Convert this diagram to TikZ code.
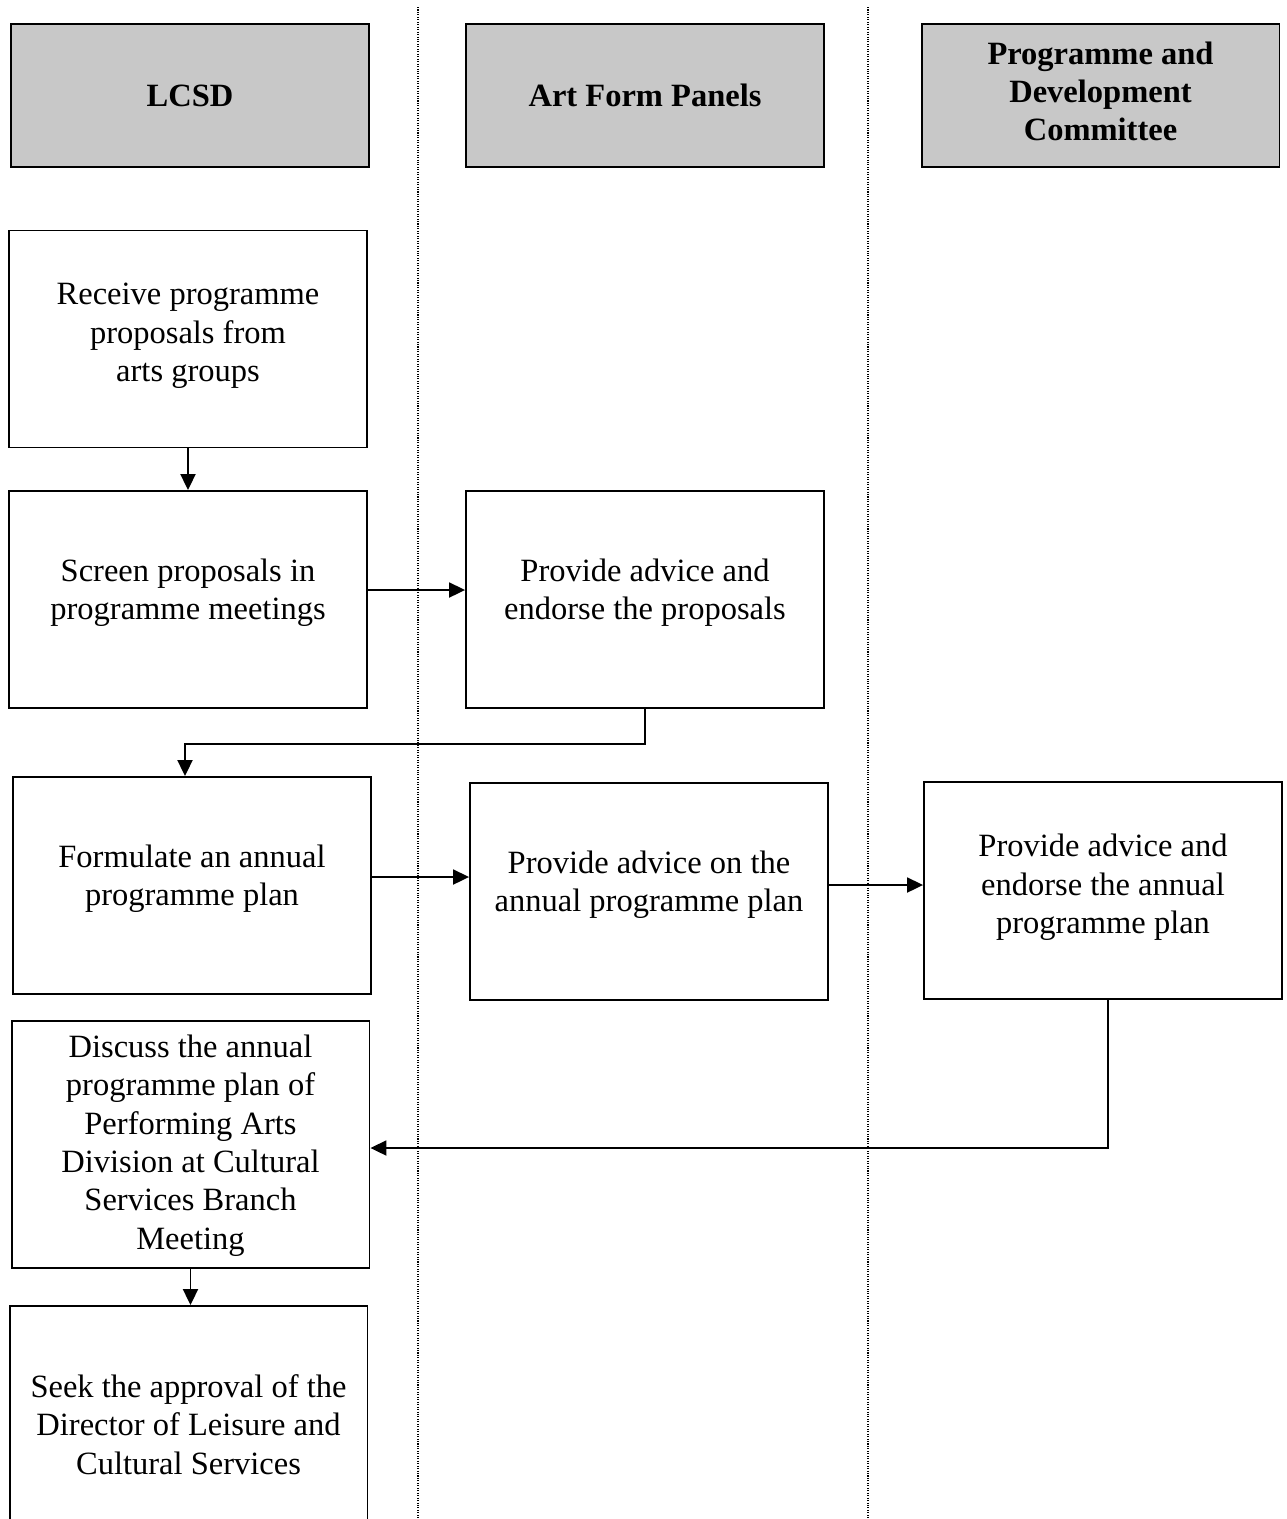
\documentclass[tikz,border=0pt]{standalone}
\usepackage{fontspec}
\setmainfont{Liberation Serif}
\usetikzlibrary{arrows.meta}
\definecolor{headgray}{HTML}{C8C8C8}

\begin{document}
\begin{tikzpicture}[x=0.02cm, y=-0.02cm,
	head/.style={draw, line width=1.1pt, fill=headgray, minimum width=7.16cm, minimum height=2.86cm, align=center, font=\bfseries\fontsize{18.5}{21.8}\selectfont},
	stepbox/.style={draw, line width=1.1pt, minimum width=7.16cm, minimum height=4.34cm},
	steptext/.style={align=center, font=\fontsize{18.5}{21.8}\selectfont, yshift=0.14cm},
	arrow/.style={line width=1.1pt, -{Triangle[length=0.32cm, width=0.3cm]}},
	lane/.style={line width=0.6pt, dash pattern=on 0.6pt off 0.8pt}]
	\useasboundingbox (0,0) rectangle (1287,1519);
	%% swimlane separators
	\draw[lane] (418,7) -- (418,1519);
	\draw[lane] (868,7) -- (868,1519);
	%% lane headers
	\node[head] (lcsd) at (190,95.5) {LCSD};
	\node[head] (panels) at (645,95.5) {Art Form Panels};
	\node[head, label={[align=center, font=\bfseries\fontsize{18.5}{21.8}\selectfont, yshift=0.08cm]center:Programme and\\Development\\Committee}] (committee) at (1100.5,95.5) {};
	%% steps
	\node[stepbox, label={[steptext, yshift=-0.08cm]center:Receive programme\\proposals from\\arts groups}] (receive) at (188,339) {};
	\node[stepbox, label={[steptext]center:Screen proposals in\\programme meetings}] (screen) at (188,599.5) {};
	\node[stepbox, label={[steptext]center:Provide advice and\\endorse the proposals}] (endorse) at (645,599.5) {};
	\node[stepbox, label={[steptext]center:Formulate an annual\\programme plan}] (formulate) at (192,885.5) {};
	\node[stepbox, label={[steptext]center:Provide advice on the\\annual programme plan}] (advise) at (649,891.5) {};
	\node[stepbox, label={[steptext, yshift=-0.08cm]center:Provide advice and\\endorse the annual\\programme plan}] (endorseplan) at (1103,890.5) {};
	\node[stepbox, minimum height=4.94cm, label={[steptext, yshift=-0.16cm]center:Discuss the annual\\programme plan of\\Performing Arts\\Division at Cultural\\Services Branch\\Meeting}] (discuss) at (190.5,1144.5) {};
	\node[stepbox, minimum height=5.06cm, label={[steptext, yshift=0.02cm]center:Seek the approval of the\\Director of Leisure and\\Cultural Services}] (approval) at (188.5,1432.5) {};
	%% connectors
	\coordinate (sa) at ([yshift=0.19cm]screen.east);
	\coordinate (fa) at ([yshift=0.17cm]formulate.east);
	\coordinate (aa) at ([yshift=0.13cm]advise.east);
	\coordinate (back) at (185,744);
	\coordinate (down) at ([xshift=0.1cm]endorseplan.south);
	\coordinate (da) at ([yshift=-0.07cm]discuss.east);
	\draw[arrow] (receive) -- (receive.south |- screen.north);
	\draw[arrow] (sa) -- (sa -| endorse.west);
	\draw[arrow] (endorse.south) |- (back) -- (back |- formulate.north);
	\draw[arrow] (fa) -- (fa -| advise.west);
	\draw[arrow] (aa) -- (aa -| endorseplan.west);
	\draw[arrow] (down) |- (da);
	\draw[arrow] (discuss.south) -- (discuss.south |- approval.north);
\end{tikzpicture}
\end{document}
